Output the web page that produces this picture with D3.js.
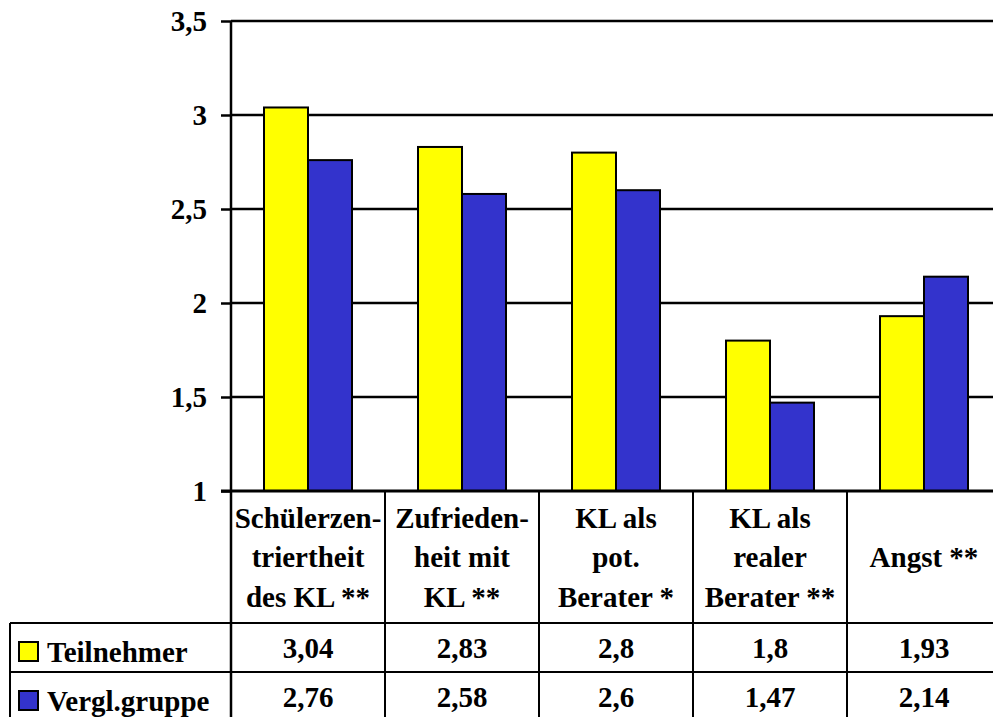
<!DOCTYPE html>
<html>
<head>
<meta charset="utf-8">
<script src="https://cdn.jsdelivr.net/npm/d3@7/dist/d3.min.js"></script>
</head>
<body style="margin:0">
<svg id="chart" width="993" height="717" font-family="Liberation Serif" font-weight="bold"></svg>
<script>
// Category labels (column headers of the data table, wrapped lines)
const categories = ["Schülerzentriertheit", "Zufriedenheit", "KL pot. Berater", "KL realer Berater", "Angst"];
const categoryLines = [
  ["Schülerzen-", "triertheit", "des KL **"],
  ["Zufrieden-", "heit mit", "KL **"],
  ["KL als", "pot.", "Berater *"],
  ["KL als", "realer", "Berater **"],
  ["Angst **"]
];
const seriesNames = ["Teilnehmer", "Vergl.gruppe"];
const teilnehmer = [3.04, 2.83, 2.8, 1.8, 1.93];
const vergleichsgruppe = [2.76, 2.58, 2.6, 1.47, 2.14];
const yTicks = [1, 1.5, 2, 2.5, 3, 3.5];
const seriesColors = ["#FFFF00", "#3333CC"];

const seriesValues = [teilnehmer, vergleichsgruppe];

const locale = d3.formatLocale({ decimal: ",", thousands: ".", grouping: [3], currency: ["", " €"] });
const fmt = locale.format("~g");

const svg = d3.select("#chart");
const fontFamily = "Times New Roman";
const fontSize = "29px";

function styleText(sel) {
  return sel
    .style("font-family", fontFamily)
    .style("font-weight", "bold")
    .style("font-size", fontSize)
    .style("fill", "#000");
}

// Layout
const plotLeft = 231, plotRight = 1001, plotTop = 21, plotBottom = 491;
const headerBottom = 623, row1Bottom = 672, tableBottom = 717;
const legendLeft = 10;

const x0 = d3.scaleBand().domain(categories).range([plotLeft, plotRight]).paddingInner(0).paddingOuter(0);
const x1 = d3.scaleBand().domain(seriesNames).range([0, x0.bandwidth()]).paddingInner(0).paddingOuter(0.75);
const y = d3.scaleLinear().domain([1, 3.5]).range([plotBottom, plotTop]);

// Gridlines
svg.append("g")
  .selectAll("line")
  .data(yTicks.filter(t => t > 1))
  .join("line")
  .attr("x1", plotLeft).attr("x2", plotRight)
  .attr("y1", d => y(d)).attr("y2", d => y(d))
  .attr("stroke", "#000").attr("stroke-width", 2.5);

// Y axis: tick marks from the axis generator, labels drawn as plain text
const yAxis = svg.append("g")
  .attr("transform", `translate(${plotLeft},0)`)
  .call(d3.axisLeft(y).tickValues(yTicks).tickFormat("").tickSize(10));
yAxis.select(".domain").remove();
yAxis.selectAll(".tick line").attr("stroke", "#000").attr("stroke-width", 2.5);
yAxis.selectAll(".tick text").remove();

styleText(svg.append("g").selectAll("text")
  .data(yTicks)
  .join("text"))
  .attr("x", plotLeft - 24)
  .attr("y", d => y(d) + 10)
  .attr("text-anchor", "end")
  .text(d => fmt(d));

// Bars
const groups = svg.append("g")
  .selectAll("g")
  .data(categories)
  .join("g")
  .attr("transform", d => `translate(${x0(d)},0)`);

groups.selectAll("rect")
  .data((d, i) => seriesNames.map((s, j) => ({ s, v: seriesValues[j][i], c: seriesColors[j] })))
  .join("rect")
  .attr("x", d => x1(d.s))
  .attr("width", x1.bandwidth())
  .attr("y", d => y(d.v))
  .attr("height", d => y(1) - y(d.v))
  .attr("fill", d => d.c)
  .attr("stroke", "#000")
  .attr("stroke-width", 2);

// Axis line (left) continuing through the table
svg.append("line")
  .attr("x1", plotLeft).attr("x2", plotLeft)
  .attr("y1", plotTop).attr("y2", tableBottom)
  .attr("stroke", "#000").attr("stroke-width", 2.5);

// Baseline
svg.append("line")
  .attr("x1", plotLeft - 10).attr("x2", plotRight)
  .attr("y1", plotBottom).attr("y2", plotBottom)
  .attr("stroke", "#000").attr("stroke-width", 3);

// Data table grid
const table = svg.append("g");
table.selectAll("line.col")
  .data(categories.slice(1))
  .join("line")
  .attr("class", "col")
  .attr("x1", d => x0(d)).attr("x2", d => x0(d))
  .attr("y1", plotBottom).attr("y2", tableBottom)
  .attr("stroke", "#000").attr("stroke-width", 2);

table.selectAll("line.row")
  .data([headerBottom, row1Bottom])
  .join("line")
  .attr("class", "row")
  .attr("x1", legendLeft).attr("x2", plotRight)
  .attr("y1", d => d).attr("y2", d => d)
  .attr("stroke", "#000").attr("stroke-width", 2);

table.append("line")
  .attr("x1", legendLeft).attr("x2", legendLeft)
  .attr("y1", headerBottom).attr("y2", tableBottom)
  .attr("stroke", "#000").attr("stroke-width", 2);

// Column headers
const headerMid = (plotBottom + headerBottom) / 2;
const lineGap = 39.5;
categories.forEach((c, i) => {
  const lines = categoryLines[i];
  const cx = x0(c) + x0.bandwidth() / 2;
  const t = styleText(table.append("text")).attr("text-anchor", "middle");
  lines.forEach((ln, k) => {
    t.append("tspan")
      .attr("x", cx)
      .attr("y", headerMid + 10 + (k - (lines.length - 1) / 2) * lineGap)
      .text(ln);
  });
});

// Rows: legend key + values
const rowTops = [headerBottom, row1Bottom];
seriesNames.forEach((s, j) => {
  const rTop = rowTops[j];
  table.append("rect")
    .attr("x", 19).attr("y", rTop + 19)
    .attr("width", 19).attr("height", 19)
    .attr("fill", seriesColors[j])
    .attr("stroke", "#000").attr("stroke-width", 2);
  styleText(table.append("text"))
    .attr("x", 47).attr("y", rTop + 39)
    .text(s);
  styleText(table.selectAll(null)
    .data(categories)
    .join("text"))
    .attr("x", d => x0(d) + x0.bandwidth() / 2)
    .attr("y", rTop + 35)
    .attr("text-anchor", "middle")
    .text((d, i) => fmt(seriesValues[j][i]));
});
</script>
</body>
</html>
